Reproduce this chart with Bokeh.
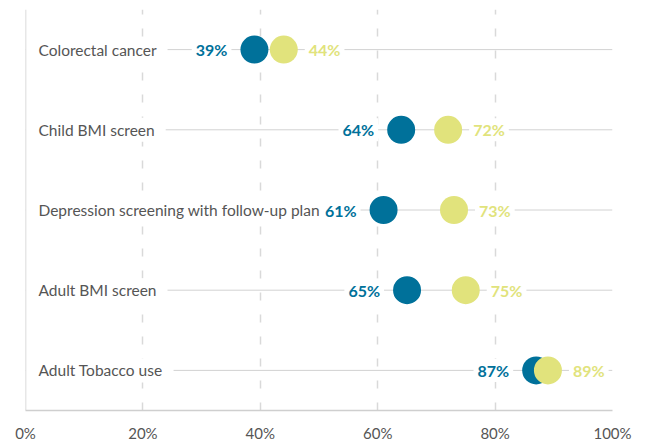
from bokeh.plotting import figure
from bokeh.models import ColumnDataSource, FactorRange, Range1d, FixedTicker, Span
from bokeh.core.properties import value
from bokeh.embed import file_html
from bokeh.resources import INLINE

categories = ["Colorectal cancer", "Child BMI screen", "Depression screening with follow-up plan",
              "Adult BMI screen", "Adult Tobacco use"]
series_a = [39, 64, 61, 65, 87]   # blue
series_b = [44, 72, 73, 75, 89]   # yellow
tick_values = [0, 20, 40, 60, 80, 100]
tick_labels = ["0%", "20%", "40%", "60%", "80%", "100%"]

BLUE = "#00719A"
YELLOW = "#E1E37C"
FONT = value("Lato")

src = ColumnDataSource(dict(
    cat=categories,
    a=series_a,
    b=series_b,
    zero=[0] * len(categories),
    full=[100] * len(categories),
    a_txt=[f"{v}%" for v in series_a],
    b_txt=[f"{v}%" for v in series_b],
))

p = figure(width=645, height=444, x_range=Range1d(0, 100),
           y_range=FactorRange(*list(reversed(categories))),
           output_backend="svg", toolbar_location=None,
           min_border_left=25, min_border_right=33, min_border_top=9, min_border_bottom=32)
p.outline_line_color = None
p.yaxis.visible = False
p.ygrid.visible = False

p.xaxis.ticker = FixedTicker(ticks=tick_values)
p.xaxis.major_label_overrides = {v: l for v, l in zip(tick_values, tick_labels)}
p.xaxis.axis_line_color = "#cfcfcf"
p.xaxis.axis_line_width = 1.5
p.xaxis.major_tick_line_color = None
p.xaxis.major_tick_out = 0
p.xaxis.major_tick_in = 0
p.xaxis.minor_tick_line_color = None
p.xaxis.minor_tick_out = 0
p.xaxis.major_label_text_font = "Lato"
p.xaxis.major_label_text_font_size = "15px"
p.xaxis.major_label_text_color = "#555555"
p.xaxis.major_label_standoff = 13

p.xgrid.ticker = FixedTicker(ticks=tick_values)
p.xgrid.grid_line_color = "#d9d9d9"
p.xgrid.grid_line_width = 1.5
p.xgrid.grid_line_dash = "8 14"

# row lines
p.segment(x0="zero", x1="full", y0="cat", y1="cat", source=src, line_color="#d2d2d2", line_width=1)

# category labels
p.text(x="zero", y="cat", text="cat", source=src, x_offset=0,
       text_align="left", text_baseline="middle", text_font=FONT,
       text_font_size="15.5px", text_color="#555555",
       background_fill_color="white", padding=dict(left=13, right=11, top=3, bottom=3))

# dots
p.scatter(x="a", y="cat", source=src, size=28, fill_color=BLUE, line_color=None)
p.scatter(x="b", y="cat", source=src, size=28, fill_color=YELLOW, line_color=None)

# value labels
p.text(x="a", y="cat", text="a_txt", source=src, x_offset=-23,
       text_align="right", text_baseline="middle", text_font=FONT, text_font_style="bold",
       text_font_size="16px", text_color=BLUE,
       background_fill_color="white", padding=dict(left=4, right=4, top=2, bottom=2))
p.text(x="b", y="cat", text="b_txt", source=src, x_offset=21,
       text_align="left", text_baseline="middle", text_font=FONT, text_font_style="bold",
       text_font_size="16px", text_color=YELLOW,
       background_fill_color="white", padding=dict(left=4, right=4, top=2, bottom=2))

p.add_layout(Span(location=0, dimension="height", line_color="#cfcfcf", line_width=1.5))

open("out.html", "w").write(file_html(p, INLINE))
